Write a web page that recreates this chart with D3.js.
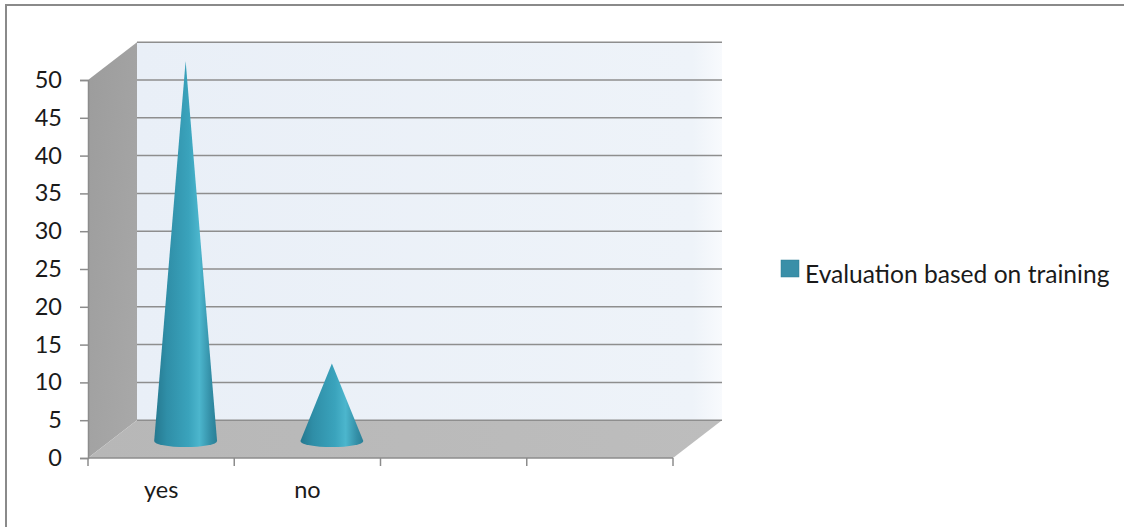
<!DOCTYPE html>
<html><head><meta charset="utf-8">
<script src="https://cdn.jsdelivr.net/npm/d3@7"></script>
<style>html,body{margin:0;padding:0;background:#fff;}svg{display:block;font-family:Lato,"Open Sans",sans-serif;}</style>
</head><body>
<svg id="chart" width="1124" height="527"></svg>
<script>
const categories = ["yes", "no", "", ""];
const seriesName = "Evaluation based on training";
const values = [50, 10, null, null];
const yTicks = [0, 5, 10, 15, 20, 25, 30, 35, 40, 45, 50];

const svg = d3.select("#chart");

// frame
svg.append("rect").attr("x", 6).attr("y", 5).attr("width", 1300).attr("height", 700)
  .attr("fill", "#fff").attr("stroke", "#8a8a8a").attr("stroke-width", 2);

const x = d3.scaleBand().domain(d3.range(categories.length)).range([88, 673]).padding(0);
const y = d3.scaleLinear().domain([0, 50]).range([458, 80]);
const depthX = 49;
const depthY = y(5) - y(0); // negative

const defs = svg.append("defs");
const wallG = defs.append("linearGradient").attr("id", "wallG").attr("x1", 0).attr("x2", 1).attr("y1", 0).attr("y2", 0);
wallG.append("stop").attr("offset", "0%").attr("stop-color", "#e9eff7");
wallG.append("stop").attr("offset", "95%").attr("stop-color", "#eef3f9");
wallG.append("stop").attr("offset", "100%").attr("stop-color", "#f8fafd");
const sideG = defs.append("linearGradient").attr("id", "sideG").attr("x1", 0).attr("x2", 1).attr("y1", 0).attr("y2", 1);
sideG.append("stop").attr("offset", "0%").attr("stop-color", "#9c9c9c");
sideG.append("stop").attr("offset", "100%").attr("stop-color", "#a9a9a9");
const floorG = defs.append("linearGradient").attr("id", "floorG").attr("x1", 0).attr("x2", 1).attr("y1", 0).attr("y2", 0);
floorG.append("stop").attr("offset", "0%").attr("stop-color", "#b7b7b7");
floorG.append("stop").attr("offset", "100%").attr("stop-color", "#bdbdbd");
const coneG = defs.append("linearGradient").attr("id", "coneG").attr("x1", 0).attr("x2", 1).attr("y1", 0).attr("y2", 0);
coneG.append("stop").attr("offset", "0%").attr("stop-color", "#25788f");
coneG.append("stop").attr("offset", "20%").attr("stop-color", "#2f8ea7");
coneG.append("stop").attr("offset", "55%").attr("stop-color", "#3aa3bc");
coneG.append("stop").attr("offset", "72%").attr("stop-color", "#4cb6cd");
coneG.append("stop").attr("offset", "90%").attr("stop-color", "#338ea6");
coneG.append("stop").attr("offset", "100%").attr("stop-color", "#2a7f96");

const x0 = x.range()[0], x1 = x.range()[1];
const yTop = y(50), yBot = y(0);

// back wall
svg.append("polygon")
  .attr("points", [[x0 + depthX, yTop + depthY], [x1 + depthX, yTop + depthY], [x1 + depthX, yBot + depthY], [x0 + depthX, yBot + depthY]].join(" "))
  .attr("fill", "url(#wallG)");
// side wall
svg.append("polygon")
  .attr("points", [[x0, yTop], [x0 + depthX, yTop + depthY], [x0 + depthX, yBot + depthY], [x0, yBot]].join(" "))
  .attr("fill", "url(#sideG)");
// floor
svg.append("polygon")
  .attr("points", [[x0, yBot], [x1, yBot], [x1 + depthX, yBot + depthY], [x0 + depthX, yBot + depthY]].join(" "))
  .attr("fill", "url(#floorG)");

// back wall gridlines
svg.append("g").selectAll("line").data(yTicks).join("line")
  .attr("x1", x0 + depthX).attr("x2", x1 + depthX)
  .attr("y1", d => y(d) + depthY).attr("y2", d => y(d) + depthY)
  .attr("stroke", "#8e8e8e").attr("stroke-width", 1.5);

// floor front edge / x axis line
svg.append("line").attr("x1", x0).attr("x2", x1).attr("y1", yBot).attr("y2", yBot)
  .attr("stroke", "#8c8c8c").attr("stroke-width", 1.5);
// y axis
const yAxis = d3.axisLeft(y).tickValues(yTicks).tickSize(8).tickPadding(18).tickFormat(d3.format("d"));
const gy = svg.append("g").attr("transform", `translate(${x0},0)`).call(yAxis);
gy.select(".domain").attr("stroke", "#8c8c8c").attr("stroke-width", 1.5);
gy.selectAll(".tick line").attr("stroke", "#8c8c8c").attr("stroke-width", 1.5);
gy.selectAll(".tick text").attr("font-size", 23.5).attr("fill", "#1a1a1a").attr("font-family", "Lato, sans-serif");

// x ticks at band boundaries
const bounds = categories.map((c, i) => x(i)).concat([x1]);
svg.append("g").selectAll("line").data(bounds).join("line")
  .attr("x1", d => d).attr("x2", d => d).attr("y1", yBot).attr("y2", yBot + 8)
  .attr("stroke", "#8c8c8c").attr("stroke-width", 1.5);
svg.append("g").selectAll("text").data(categories).join("text")
  .attr("x", (d, i) => x(i) + x.bandwidth() / 2).attr("y", 498)
  .attr("text-anchor", "middle").attr("font-size", 23.5).attr("fill", "#1a1a1a")
  .text(d => d);

// cones
const rx = x.bandwidth() * 0.215, ry = 6;
const coneData = values.map((v, i) => ({v, i})).filter(d => d.v != null);
svg.append("g").selectAll("path").data(coneData).join("path")
  .attr("d", d => {
    const cx = x(d.i) + x.bandwidth() / 2 + depthX / 2;
    const cy = y(0) + depthY / 2 + 2;
    const ty = y(d.v) + depthY / 2;
    return `M${cx - rx},${cy} L${cx},${ty} L${cx + rx},${cy} A${rx},${ry} 0 0 1 ${cx - rx},${cy} Z`;
  })
  .attr("fill", "url(#coneG)");

// legend
const lg = svg.append("g");
lg.append("rect").attr("x", 781).attr("y", 260).attr("width", 18).attr("height", 17)
  .attr("fill", "#3a8fa8").attr("stroke", "#2f7d94").attr("stroke-width", 0.5);
lg.append("text").attr("x", 805).attr("y", 283).attr("font-size", 24.6).attr("fill", "#1a1a1a")
  .text(seriesName);
</script>
</body></html>
